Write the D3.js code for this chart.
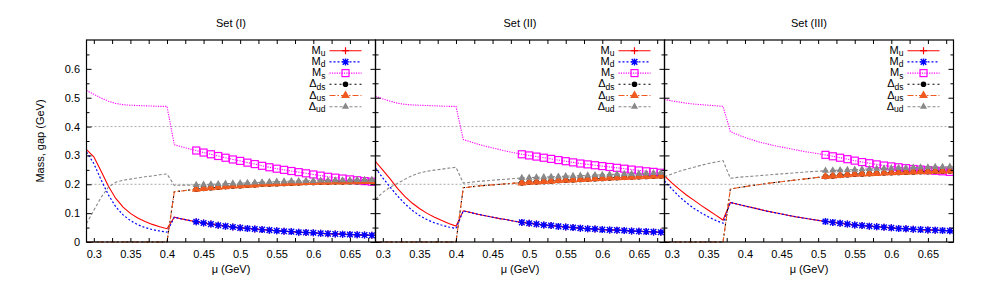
<!DOCTYPE html>
<html>
<head>
<meta charset="utf-8">
<script src="https://d3js.org/d3.v7.min.js"></script>
<style>
body { margin: 0; background: #fff; }
svg text { font-family: "Liberation Sans", Arial, Helvetica, sans-serif; }
</style>
</head>
<body>
<div id="chart"></div>
<script>
// chemical potential grid (GeV)
const mu = [0.29,0.30,0.31,0.32,0.33,0.34,0.35,0.36,0.37,0.38,
            0.39,0.40,0.41,0.42,0.43,0.44,0.45,0.46,0.47,0.48,
            0.49,0.50,0.51,0.52,0.53,0.54,0.55,0.56,0.57,0.58,
            0.59,0.60,0.61,0.62,0.63,0.64,0.65,0.66,0.67,0.68,0.69];

const panelTitles = ["Set (I)", "Set (II)", "Set (III)"];
const markerStart = [0.44, 0.49, 0.51];
const markerEnd = 0.68;
const muTicks = [0.3,0.35,0.4,0.45,0.5,0.55,0.6,0.65];
const muMinorTicks = [0.325,0.375,0.425,0.475,0.525,0.575,0.625,0.675];
const yTicks = [0,0.1,0.2,0.3,0.4,0.5,0.6];
const yMinorTicks = [0.05,0.15,0.25,0.35,0.45,0.55,0.65];
const refLines = [0.2, 0.4];

// Set (I)
const setI_Mu  = [0.320,0.295,0.245,0.193,0.151,0.121,0.099,0.083,0.071,0.061,0.053,0.046,
                  0.086,0.080,0.075,0.070,0.066,0.062,0.058,0.055,0.052,0.049,
                  0.047,0.045,0.043,0.041,0.039,0.037,0.036,0.034,0.033,0.032,
                  0.030,0.029,0.028,0.027,0.026,0.025,0.024,0.023,0.022];
const setI_Md  = [0.312,0.272,0.215,0.163,0.122,0.094,0.074,0.060,0.050,0.043,0.038,0.034,
                  0.086,0.080,0.075,0.070,0.066,0.062,0.058,0.055,0.052,0.049,
                  0.047,0.045,0.043,0.041,0.039,0.037,0.036,0.034,0.033,0.032,
                  0.030,0.029,0.028,0.027,0.026,0.025,0.024,0.023,0.022];
const setI_Ms  = [0.525,0.512,0.499,0.488,0.480,0.476,0.474,0.473,0.472,0.471,0.470,0.470,
                  0.337,0.330,0.323,0.317,0.310,0.304,0.298,0.292,0.286,0.281,
                  0.275,0.270,0.264,0.259,0.254,0.250,0.246,0.242,0.238,0.234,
                  0.230,0.226,0.223,0.220,0.217,0.214,0.211,0.209,0.207];
const setI_Dds = [0,0,0,0,0,0,0,0,0,0,0,0,
                  0.174,0.177,0.180,0.183,0.186,0.188,0.190,0.192,0.194,0.195,
                  0.197,0.198,0.200,0.201,0.202,0.203,0.204,0.205,0.206,0.206,
                  0.207,0.207,0.208,0.208,0.209,0.209,0.210,0.210,0.210];
const setI_Dus = [0,0,0,0,0,0,0,0,0,0,0,0,
                  0.174,0.177,0.180,0.183,0.186,0.188,0.190,0.192,0.194,0.195,
                  0.197,0.198,0.200,0.201,0.202,0.203,0.204,0.205,0.206,0.206,
                  0.207,0.207,0.208,0.208,0.209,0.209,0.210,0.210,0.210];
const setI_Dud = [0.064,0.110,0.155,0.190,0.207,0.214,0.218,0.222,0.226,0.229,0.233,0.236,
                  0.196,0.197,0.197,0.198,0.199,0.200,0.201,0.202,0.203,0.204,
                  0.205,0.206,0.207,0.208,0.209,0.210,0.211,0.211,0.212,0.212,
                  0.213,0.213,0.214,0.214,0.214,0.215,0.215,0.215,0.215];

// Set (II)
const setII_Mu  = [0.279,0.249,0.219,0.186,0.158,0.135,0.116,0.100,0.087,0.075,0.064,0.055,
                   0.108,0.102,0.096,0.091,0.086,0.081,0.077,0.072,0.068,0.065,
                   0.062,0.059,0.057,0.054,0.052,0.050,0.048,0.046,0.045,0.043,
                   0.042,0.041,0.040,0.038,0.037,0.036,0.035,0.034,0.033];
const setII_Md  = [0.256,0.222,0.190,0.160,0.133,0.110,0.092,0.078,0.067,0.059,0.052,0.047,
                   0.108,0.102,0.096,0.091,0.086,0.081,0.077,0.072,0.068,0.065,
                   0.062,0.059,0.057,0.054,0.052,0.050,0.048,0.046,0.045,0.043,
                   0.042,0.041,0.040,0.038,0.037,0.036,0.035,0.034,0.033];
const setII_Ms  = [0.505,0.496,0.488,0.481,0.477,0.475,0.474,0.473,0.472,0.471,0.470,0.470,
                   0.355,0.347,0.339,0.332,0.326,0.320,0.314,0.309,0.304,0.300,
                   0.296,0.292,0.288,0.284,0.280,0.276,0.272,0.269,0.266,0.263,
                   0.260,0.257,0.254,0.251,0.248,0.245,0.243,0.240,0.238];
const setII_Dds = [0,0,0,0,0,0,0,0,0,0,0,0,
                   0.188,0.191,0.194,0.196,0.198,0.200,0.202,0.204,0.205,0.207,
                   0.208,0.210,0.211,0.213,0.214,0.215,0.217,0.218,0.219,0.220,
                   0.222,0.223,0.224,0.225,0.226,0.227,0.228,0.229,0.230];
const setII_Dus = [0,0,0,0,0,0,0,0,0,0,0,0,
                   0.188,0.191,0.194,0.196,0.198,0.200,0.202,0.204,0.205,0.207,
                   0.208,0.210,0.211,0.213,0.214,0.215,0.217,0.218,0.219,0.220,
                   0.222,0.223,0.224,0.225,0.226,0.227,0.228,0.229,0.230];
const setII_Dud = [0.148,0.172,0.190,0.203,0.217,0.230,0.239,0.245,0.249,0.252,0.256,0.259,
                   0.204,0.207,0.210,0.212,0.214,0.216,0.218,0.220,0.222,0.223,
                   0.224,0.225,0.226,0.227,0.228,0.229,0.230,0.231,0.232,0.233,
                   0.234,0.235,0.236,0.236,0.237,0.238,0.239,0.240,0.240];

// Set (III)
const setIII_Mu  = [0.229,0.205,0.183,0.163,0.145,0.127,0.110,0.093,0.076,
                    0.137,0.131,0.125,0.119,0.113,0.107,0.102,0.097,0.092,0.087,0.083,0.079,0.075,
                    0.071,0.068,0.065,0.062,0.059,0.057,0.055,0.053,0.051,0.049,
                    0.047,0.046,0.044,0.043,0.042,0.041,0.040,0.039,0.038];
const setIII_Md  = [0.212,0.184,0.158,0.136,0.117,0.101,0.087,0.075,0.065,
                    0.137,0.131,0.125,0.119,0.113,0.107,0.102,0.097,0.092,0.087,0.083,0.079,0.075,
                    0.071,0.068,0.065,0.062,0.059,0.057,0.055,0.053,0.051,0.049,
                    0.047,0.046,0.044,0.043,0.042,0.041,0.040,0.039,0.038];
const setIII_Ms  = [0.494,0.489,0.485,0.481,0.478,0.476,0.474,0.472,0.470,
                    0.383,0.372,0.362,0.354,0.346,0.340,0.334,0.329,0.324,0.319,0.314,0.310,0.306,
                    0.302,0.297,0.292,0.287,0.282,0.277,0.273,0.269,0.265,0.262,
                    0.259,0.256,0.253,0.251,0.249,0.247,0.245,0.243,0.242];
const setIII_Dds = [0,0,0,0,0,0,0,0,0,
                    0.183,0.188,0.192,0.196,0.199,0.203,0.206,0.209,0.212,0.215,0.218,0.221,0.224,
                    0.227,0.229,0.231,0.233,0.235,0.236,0.237,0.238,0.239,0.240,
                    0.241,0.242,0.243,0.244,0.244,0.245,0.245,0.246,0.246];
const setIII_Dus = [0,0,0,0,0,0,0,0,0,
                    0.183,0.188,0.192,0.196,0.199,0.203,0.206,0.209,0.212,0.215,0.218,0.221,0.224,
                    0.227,0.229,0.231,0.233,0.235,0.236,0.237,0.238,0.239,0.240,
                    0.241,0.242,0.243,0.244,0.244,0.245,0.245,0.246,0.246];
const setIII_Dud = [0.226,0.236,0.245,0.252,0.259,0.266,0.272,0.277,0.282,
                    0.221,0.224,0.226,0.228,0.230,0.232,0.234,0.236,0.238,0.240,0.242,0.244,0.245,
                    0.247,0.248,0.249,0.250,0.251,0.252,0.253,0.254,0.255,0.256,
                    0.257,0.257,0.258,0.259,0.259,0.260,0.260,0.261,0.261];

const setData = [
	[setI_Mu, setI_Md, setI_Ms, setI_Dds, setI_Dus, setI_Dud],
	[setII_Mu, setII_Md, setII_Ms, setII_Dds, setII_Dus, setII_Dud],
	[setIII_Mu, setIII_Md, setIII_Ms, setIII_Dds, setIII_Dus, setIII_Dud]
];

// series styles, in gnuplot plotting order
const series = [
	{main: "M", sub: "u",  color: "#ff0000", dash: null,        lw: 1.1, mark: "plus"},
	{main: "M", sub: "d",  color: "#0000ff", dash: "2,2",       lw: 1.2, mark: "star"},
	{main: "M", sub: "s",  color: "#ff00ff", dash: "1.2,1.2",   lw: 1.1, mark: "square"},
	{main: "\u0394", sub: "ds", color: "#000000", dash: "2,3",  lw: 1.1, mark: "circle"},
	{main: "\u0394", sub: "us", color: "#f05a1e", dash: "6,2,1.5,2", lw: 1.1, mark: "triangle"},
	{main: "\u0394", sub: "ud", color: "#888888", dash: "3,2",  lw: 1.1, mark: "smalltri"}
];

// layout
const W = 982, H = 283;
const plotLeft = 86.5, plotTop = 40;
const panelW = 289, plotH = 202;

const svg = d3.select("#chart").append("svg")
	.attr("width", W)
	.attr("height", H);

const x = d3.scaleLinear().domain([0.29, 0.685]).range([0, panelW]);
const y = d3.scaleLinear().domain([0, 0.7]).range([plotH, 0]);

function drawMark(g, type, color) {
	if (type === "plus") {
		g.append("path").attr("d", "M-3.5,0H3.5M0,-3.5V3.5")
			.attr("stroke", color).attr("stroke-width", 1.2).attr("fill", "none");
	} else if (type === "star") {
		g.append("path").attr("d", "M-3.5,0H3.5M0,-3.5V3.5M-2.8,-2.8L2.8,2.8M-2.8,2.8L2.8,-2.8")
			.attr("stroke", color).attr("stroke-width", 1.4).attr("fill", "none");
	} else if (type === "square") {
		g.append("rect").attr("x", -3.5).attr("y", -3.5).attr("width", 7).attr("height", 7)
			.attr("stroke", color).attr("stroke-width", 1.2).attr("fill", "none");
	} else if (type === "circle") {
		g.append("circle").attr("r", 2.8).attr("fill", color);
	} else if (type === "triangle") {
		g.append("path").attr("d", d3.symbol(d3.symbolTriangle, 34)).attr("fill", color);
	} else if (type === "smalltri") {
		g.append("path").attr("d", d3.symbol(d3.symbolTriangle, 22)).attr("fill", color);
	}
}

const line = d3.line()
	.x(d => x(d[0]))
	.y(d => y(d[1]));

// y-axis label
svg.append("text")
	.attr("transform", `translate(44, ${plotTop + plotH / 2}) rotate(-90)`)
	.attr("text-anchor", "middle")
	.attr("font-size", "11px")
	.text("Mass, gap (GeV)");

panelTitles.forEach(function(title, p) {
	const left = plotLeft + p * panelW;
	const panel = svg.append("g")
		.attr("transform", `translate(${left}, ${plotTop})`);

	panel.append("clipPath").attr("id", "clip" + p)
		.append("rect").attr("x", 0).attr("y", -1).attr("width", panelW).attr("height", plotH + 2);

	const plot = panel.append("g").attr("clip-path", `url(#clip${p})`);

	// horizontal reference lines
	plot.selectAll(".ref").data(refLines).enter()
		.append("line")
		.attr("x1", 0).attr("x2", panelW)
		.attr("y1", d => y(d)).attr("y2", d => y(d))
		.attr("stroke", "#aaaaaa")
		.attr("stroke-width", 1)
		.attr("stroke-dasharray", "2,2");

	// curves and points
	series.forEach(function(s, k) {
		const vals = setData[p][k];
		const pts = mu.map((m, i) => [m, vals[i]]);
		plot.append("path")
			.attr("d", line(pts))
			.attr("fill", "none")
			.attr("stroke", s.color)
			.attr("stroke-width", s.lw)
			.attr("stroke-dasharray", s.dash);
		pts.filter(d => d[0] >= markerStart[p] - 1e-9 && d[0] <= markerEnd + 1e-9)
			.forEach(function(d) {
				const g = plot.append("g").attr("transform", `translate(${x(d[0])}, ${y(d[1])})`);
				drawMark(g, s.mark, s.color);
			});
	});

	// axes
	const fmt = d3.format("~g");
	panel.append("g").attr("transform", `translate(0, ${plotH})`)
		.call(d3.axisBottom(x).tickValues(muTicks).tickSizeInner(-4).tickSizeOuter(0)
			.tickPadding(8.5).tickFormat(fmt));
	panel.append("g").attr("transform", `translate(0, ${plotH})`)
		.call(d3.axisBottom(x).tickValues(muMinorTicks).tickSizeInner(-4).tickSizeOuter(0).tickFormat(""));
	panel.append("g")
		.call(d3.axisTop(x).tickValues(muTicks.concat(muMinorTicks)).tickSizeInner(-4).tickSizeOuter(0).tickFormat(""));

	panel.append("g")
		.call(d3.axisLeft(y).tickValues(yTicks).tickSizeInner(-5).tickSizeOuter(0)
			.tickPadding(6.5).tickFormat(p === 0 ? fmt : ""));
	panel.append("g")
		.call(d3.axisLeft(y).tickValues(yMinorTicks).tickSizeInner(-3).tickSizeOuter(0).tickFormat(""));
	panel.append("g").attr("transform", `translate(${panelW}, 0)`)
		.call(d3.axisRight(y).tickValues(yTicks).tickSizeInner(-5).tickSizeOuter(0).tickFormat(""));
	panel.append("g").attr("transform", `translate(${panelW}, 0)`)
		.call(d3.axisRight(y).tickValues(yMinorTicks).tickSizeInner(-3).tickSizeOuter(0).tickFormat(""));

	panel.selectAll(".domain").remove();
	panel.selectAll(".tick line").attr("stroke", "#000");
	panel.selectAll(".tick text")
		.attr("font-size", "11px")
		.attr("font-family", "'Liberation Sans', Arial, sans-serif")
		.attr("fill", "#000");

	// border
	panel.append("rect")
		.attr("x", 0).attr("y", 0)
		.attr("width", panelW).attr("height", plotH)
		.attr("fill", "none")
		.attr("stroke", "#000")
		.attr("stroke-width", 1.2);

	// title and x label
	panel.append("text")
		.attr("x", panelW / 2).attr("y", 27 - plotTop)
		.attr("text-anchor", "middle")
		.attr("font-size", "11px")
		.text(title);
	panel.append("text")
		.attr("x", panelW / 2).attr("y", 273 - plotTop)
		.attr("text-anchor", "middle")
		.attr("font-size", "11px")
		.text("\u03bc (GeV)");

	// legend
	const legend = panel.append("g");
	series.forEach(function(s, k) {
		const ly = 10.7 + k * 11.2;
		const t = legend.append("text")
			.attr("x", panelW - 50).attr("y", ly + 3)
			.attr("text-anchor", "end")
			.attr("font-size", "11px");
		t.append("tspan").text(s.main);
		t.append("tspan").attr("font-size", "8.5px").attr("dy", 2.5).text(s.sub);
		legend.append("line")
			.attr("x1", panelW - 46).attr("x2", panelW - 14)
			.attr("y1", ly).attr("y2", ly)
			.attr("stroke", s.color)
			.attr("stroke-width", s.lw)
			.attr("stroke-dasharray", s.dash);
		const g = legend.append("g").attr("transform", `translate(${panelW - 30}, ${ly})`);
		drawMark(g, s.mark, s.color);
	});
});
</script>
</body>
</html>
